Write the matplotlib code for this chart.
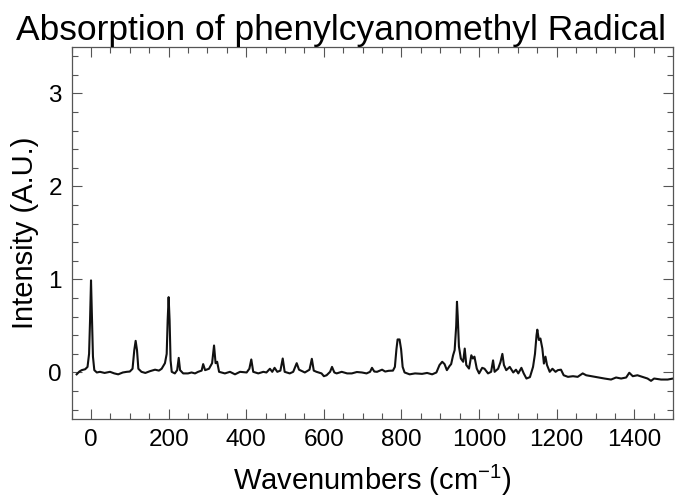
import numpy as np
import matplotlib.pyplot as plt
from matplotlib.ticker import MultipleLocator

plt.rcParams['font.family'] = ['Liberation Sans', 'DejaVu Sans']
plt.rcParams['mathtext.fontset'] = 'custom'
plt.rcParams['mathtext.rm'] = 'Liberation Sans'

# spectrum (cm^-1, A.U.)
wavenumber = [-37, -30, -24, -15, -9, -5, -2.5, 0, 2.5, 5, 8.5, 15, 23, 35, 49, 60, 70, 82,
              92, 100, 107, 111.5, 115, 118.5, 122, 130, 140, 152, 165, 175, 182, 190.5, 195,
              197.5, 200, 202.5, 205, 208, 216, 222, 226, 229.5, 237.5, 250, 259, 268, 276,
              285, 289, 294, 304, 312, 317, 321, 325, 330, 345, 358, 371, 384, 401, 408, 413,
              418, 431, 444, 452, 461, 467, 473, 480, 488, 494, 499, 512, 521, 530, 536, 551,
              563, 569, 574, 581, 594, 600, 607, 616, 621, 627, 633, 646, 660, 672, 685, 698,
              710, 719, 724, 730, 737, 750, 758, 767, 778, 783, 787, 790, 795, 799, 803, 808,
              821, 835, 853, 866, 879, 890, 898, 905, 911, 917, 924, 928, 933, 937, 941, 943,
              945, 948, 953, 959, 963, 967, 974, 980, 984, 988, 994, 1000, 1008, 1014, 1023,
              1031, 1036, 1040, 1049, 1055, 1060, 1064, 1070, 1079, 1088, 1095, 1101, 1109,
              1115, 1122, 1131, 1139, 1144, 1148, 1150, 1154, 1158, 1163, 1167, 1171, 1175,
              1182, 1189, 1197, 1203, 1211, 1218, 1229, 1242, 1254, 1267, 1276, 1289, 1306,
              1323, 1340, 1353, 1366, 1379, 1387, 1396, 1408, 1421, 1434, 1443, 1451, 1469,
              1486, 1500]
intensity = [-0.02, 0.01, 0.025, 0.035, 0.06, 0.2, 0.56, 0.99, 0.56, 0.17, 0.025, 0.0, 0.007,
             -0.005, 0.007, -0.01, -0.02, 0.0, 0.007, 0.01, 0.04, 0.24, 0.34, 0.24, 0.04, 0.007,
             -0.005, 0.014, 0.03, 0.02, 0.04, 0.1, 0.2, 0.56, 0.81, 0.56, 0.13, 0.007, -0.01,
             0.025, 0.157, 0.025, -0.01, -0.01, 0.0, -0.01, 0.007, 0.02, 0.09, 0.025, 0.04, 0.1,
             0.29, 0.1, 0.115, 0.007, -0.01, 0.007, -0.02, 0.007, 0.0, 0.04, 0.14, 0.007, -0.01,
             0.007, 0.0, 0.04, 0.007, 0.05, 0.007, 0.02, 0.15, 0.007, -0.01, 0.007, 0.1, 0.03,
             0.0, 0.03, 0.147, 0.02, 0.007, -0.01, -0.04, -0.03, 0.007, 0.06, 0.0, -0.01, 0.007,
             -0.01, -0.01, 0.005, 0.0, -0.01, 0.007, 0.05, 0.01, 0.007, 0.03, 0.01, 0.018, 0.02,
             0.06, 0.25, 0.355, 0.355, 0.25, 0.06, 0.0, -0.02, -0.01, -0.015, -0.005, -0.02, 0.0,
             0.08, 0.115, 0.09, 0.025, 0.07, 0.09, 0.185, 0.24, 0.5, 0.76, 0.6, 0.28, 0.15,
             0.115, 0.257, 0.08, 0.042, 0.185, 0.15, 0.17, 0.042, -0.01, 0.05, 0.04, -0.01,
             0.007, 0.13, 0.007, 0.04, 0.11, 0.2, 0.08, 0.025, 0.06, 0.0, 0.03, -0.01, 0.05,
             -0.01, -0.065, -0.05, 0.06, 0.2, 0.4, 0.46, 0.35, 0.365, 0.257, 0.096, 0.17, 0.08,
             0.007, 0.04, 0.007, 0.025, 0.03, -0.03, -0.047, -0.04, -0.047, -0.01, -0.03, -0.04,
             -0.054, -0.065, -0.076, -0.054, -0.065, -0.054, -0.003, -0.04, -0.03, -0.047,
             -0.065, -0.09, -0.065, -0.076, -0.076, -0.065]

x_ticks = [0, 200, 400, 600, 800, 1000, 1200, 1400]
y_ticks = [0, 1, 2, 3]

fig = plt.figure(figsize=(6.82, 5.01), dpi=100)
ax = fig.add_axes([0.105, 0.1637, 0.882, 0.7427])

ax.plot(wavenumber, intensity, color='#111111', lw=1.5)

ax.set_xlim(-50, 1500)
ax.set_ylim(-0.5, 3.5)
ax.set_xticks(x_ticks)
ax.set_yticks(y_ticks)
ax.xaxis.set_minor_locator(MultipleLocator(50))
ax.yaxis.set_minor_locator(MultipleLocator(0.2))
ax.tick_params(which='both', direction='in', top=True, right=True,
               color='#555555', width=0.8, labelsize=17.5, pad=7)
ax.tick_params(which='major', length=7)
ax.tick_params(which='minor', length=4)
for s in ax.spines.values():
    s.set_color('#555555')
    s.set_linewidth(0.9)

ax.set_xlabel('Wavenumbers (cm$^{-1}$)', fontsize=21, labelpad=9)
ax.set_ylabel('Intensity (A.U.)', fontsize=21, labelpad=7)
fig.text(0.5, 0.921, 'Absorption of phenylcyanomethyl Radical', ha='center',
         va='baseline', fontsize=25.5)

fig.savefig('out.png', dpi=100)
